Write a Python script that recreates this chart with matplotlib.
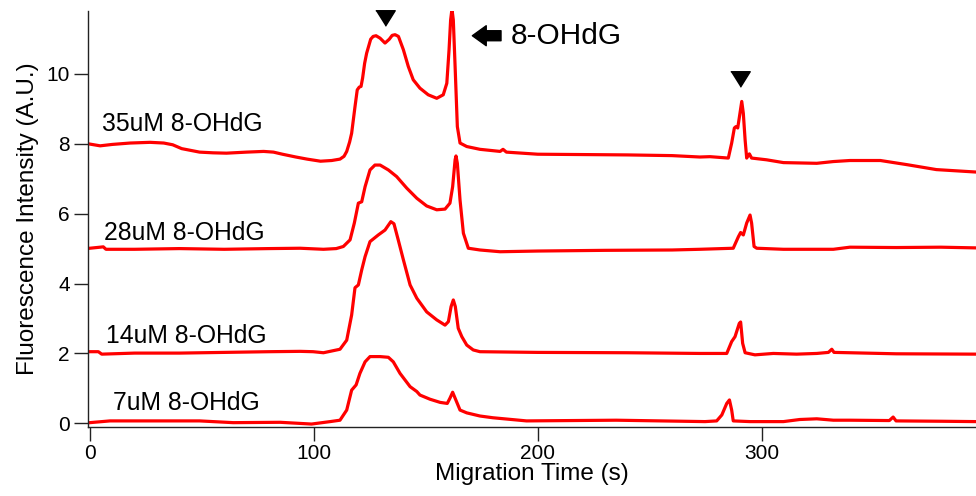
import matplotlib
matplotlib.use("Agg")
import matplotlib.pyplot as plt

plt.rcParams['font.family'] = ['Liberation Sans', 'DejaVu Sans']

# ---- data ----
x35 = [0, 4.6, 10, 18, 26.9, 33, 37, 41, 49, 55, 61, 70, 77.6, 82, 86, 92, 97, 103, 108,
       111.7, 113.5, 114.7, 116, 116.9, 118.4, 119.4, 120.3, 121.1, 121.8, 122.7, 123.6,
       125.4, 126.5, 127.8, 129.6, 131.8, 133.7, 135, 136.3, 137.8, 140.0, 142.2, 144.4,
       147.4, 151.1, 154.9, 157.8, 159.4, 160.4, 161.1, 161.7, 162.3, 163.1, 164.1, 165.3,
       168.3, 174.2, 183.2, 184.5, 186, 200, 220, 240, 260, 272.4, 276.9, 285.1, 286.6,
       287.8, 288.5, 289.3, 290.3, 291.1, 291.8, 292.6, 293.3, 294.5, 295.5, 302.2, 309.7,
       324.6, 332, 339.4, 353, 365, 378, 395.7]
y35 = [7.99, 7.94, 7.98, 8.02, 8.04, 8.02, 7.97, 7.86, 7.76, 7.74, 7.73, 7.76, 7.78, 7.76,
       7.70, 7.62, 7.56, 7.50, 7.52, 7.56, 7.64, 7.78, 8.05, 8.30, 9.06, 9.54, 9.62, 9.64,
       9.88, 10.3, 10.59, 10.99, 11.07, 11.09, 11.02, 10.88, 10.99, 11.10, 11.12, 11.07,
       10.69, 10.21, 9.83, 9.59, 9.40, 9.30, 9.40, 9.73, 10.69, 11.54, 11.85, 11.54, 10.21,
       8.49, 8.02, 7.92, 7.84, 7.78, 7.84, 7.76, 7.70, 7.69, 7.68, 7.66, 7.62, 7.63, 7.59,
       8.02, 8.45, 8.49, 8.45, 8.87, 9.21, 8.87, 8.11, 7.59, 7.71, 7.59, 7.54, 7.46, 7.44,
       7.49, 7.52, 7.52, 7.40, 7.26, 7.19]

x28 = [0, 4.6, 6, 7.2, 20, 40, 60, 80, 93.9, 104.3, 110, 113.2, 116.2, 118.1, 119.9, 121.4,
       122.9, 125.1, 127.3, 129.6, 133.3, 137.0, 141.5, 146.0, 150.4, 154.9, 158.6, 160.8,
       162.0, 163.1, 163.5, 164.1, 165.3, 166.8, 169, 174.2, 183.2, 200, 230, 260, 272.4,
       287.3, 289.6, 290.6, 291.8, 293.3, 294.8, 295.5, 296.6, 297.8, 309.7, 324.6, 332,
       339.4, 360, 380, 395.7]
y28 = [5.01, 5.04, 5.05, 4.98, 4.98, 5.00, 4.98, 5.00, 5.01, 4.98, 5.00, 5.06, 5.25, 5.73,
       6.30, 6.34, 6.77, 7.25, 7.39, 7.39, 7.25, 7.06, 6.73, 6.44, 6.22, 6.11, 6.13, 6.30,
       6.77, 7.54, 7.65, 7.44, 6.39, 5.44, 5.01, 4.96, 4.91, 4.93, 4.95, 4.96, 4.98, 5.01,
       5.34, 5.46, 5.39, 5.73, 5.96, 5.73, 5.06, 5.01, 4.98, 4.98, 4.98, 5.04, 5.03, 5.04,
       5.02]

x14 = [0, 3.8, 5.3, 20, 40, 60, 80, 93.9, 99.7, 104.3, 111.7, 114.7, 116.9, 118.4, 119.9,
       121.4, 122.9, 125.1, 128.8, 131.8, 134.4, 135.8, 137.7, 140, 143, 146, 150.4, 154.9,
       158.6, 160.1, 161.3, 162.3, 163.2, 164.5, 166.1, 168.3, 171.2, 174.2, 200, 240,
       272.4, 284.4, 286.6, 288.1, 290, 290.6, 291.5, 292.6, 297, 305.2, 315.6, 324.6,
       329.8, 331.3, 332.3, 339.4, 360, 395.7]
y14 = [2.05, 2.05, 1.98, 2.01, 2.01, 2.03, 2.05, 2.06, 2.05, 2.02, 2.12, 2.38, 3.10, 3.88,
       3.96, 4.39, 4.77, 5.20, 5.39, 5.53, 5.77, 5.71, 5.25, 4.68, 3.96, 3.58, 3.19, 2.96,
       2.81, 2.91, 3.34, 3.53, 3.34, 2.72, 2.48, 2.24, 2.10, 2.05, 2.03, 2.02, 2.00, 2.00,
       2.34, 2.48, 2.86, 2.90, 2.29, 2.02, 1.96, 2.00, 1.98, 2.00, 2.03, 2.12, 2.03, 2.02,
       1.99, 1.98]

x7 = [0, 9, 30, 49, 64, 85, 99, 107.3, 111.7, 114.7, 116.9, 118.9, 120.6, 122.9, 125.1,
      129.6, 133.3, 135.5, 138.5, 143, 146, 147.4, 151.9, 156.4, 159.6, 160.8, 162, 163.1,
      165.3, 168.3, 174.2, 180, 195, 235, 274.7, 279.9, 282.2, 284.4, 285.6, 286.6, 287.3,
      294.8, 309.7, 317, 324.6, 332, 339.4, 357, 358.7, 360, 380, 395.7]
y7 = [0.02, 0.07, 0.07, 0.07, 0.02, 0.03, -0.02, 0.05, 0.09, 0.38, 0.95, 1.10, 1.43, 1.76,
      1.91, 1.91, 1.89, 1.76, 1.43, 1.05, 0.91, 0.81, 0.69, 0.60, 0.57, 0.72, 0.89, 0.72,
      0.38, 0.30, 0.21, 0.16, 0.07, 0.09, 0.05, 0.07, 0.24, 0.57, 0.67, 0.38, 0.07, 0.05,
      0.05, 0.11, 0.13, 0.09, 0.09, 0.08, 0.18, 0.07, 0.06, 0.05]

labels = ["35uM 8-OHdG", "28uM 8-OHdG", "14uM 8-OHdG", "7uM 8-OHdG"]
yticks = [0, 2, 4, 6, 8, 10]
xticks = [0, 100, 200, 300]

fig = plt.figure(figsize=(9.76, 4.96), dpi=100)
ax = fig.add_axes([0.0899, 0.139, 0.9101, 0.839])

red = '#ff0000'
for xs, ys in [(x35, y35), (x28, y28), (x14, y14), (x7, y7)]:
    ax.plot(xs, ys, color=red, lw=2.3, solid_joinstyle='round')

ax.set_xlim(-0.94, 395.7)
ax.set_ylim(-0.106, 11.80)

label_pos = [(5.3, 8.57), (6.3, 5.44), (7.2, 2.50), (10.2, 0.57)]
for lab, (lx, ly) in zip(labels, label_pos):
    ax.text(lx, ly, lab, fontsize=17.8, ha='left', va='center')

# annotations: markers and arrow
tri = [(-0.5, 0.4), (0.5, 0.4), (0, -0.4)]
ax.plot([131.8, 290.3], [11.6, 9.85], linestyle='none', marker=tri, markersize=14,
        color='black', clip_on=False)
ax.annotate('', xy=(170.8, 11.09), xytext=(183.6, 11.09),
            arrowprops=dict(arrowstyle='simple,head_length=1.0,head_width=1.44,tail_width=0.72',
                            color='black', shrinkA=0, shrinkB=0, mutation_scale=10))
ax.text(188.1, 11.09, "8-OHdG", fontsize=21.5, ha='left', va='center')

for s in ['top', 'right']:
    ax.spines[s].set_visible(False)
for s in ['left', 'bottom']:
    ax.spines[s].set_linewidth(1.0)
    ax.spines[s].set_color('#222222')

ax.set_xticks(xticks)
ax.set_yticks(yticks)
ax.tick_params(axis='both', direction='out', length=10, width=1.0, color='#222222',
               labelsize=15)
ax.tick_params(axis='x', pad=2)
ax.tick_params(axis='y', pad=3)

ax.set_xlabel("Migration Time (s)", fontsize=17.5, labelpad=0)
ax.set_ylabel("Fluorescence Intensity (A.U.)", fontsize=17.5, labelpad=5)

fig.savefig("out.png", dpi=100)
